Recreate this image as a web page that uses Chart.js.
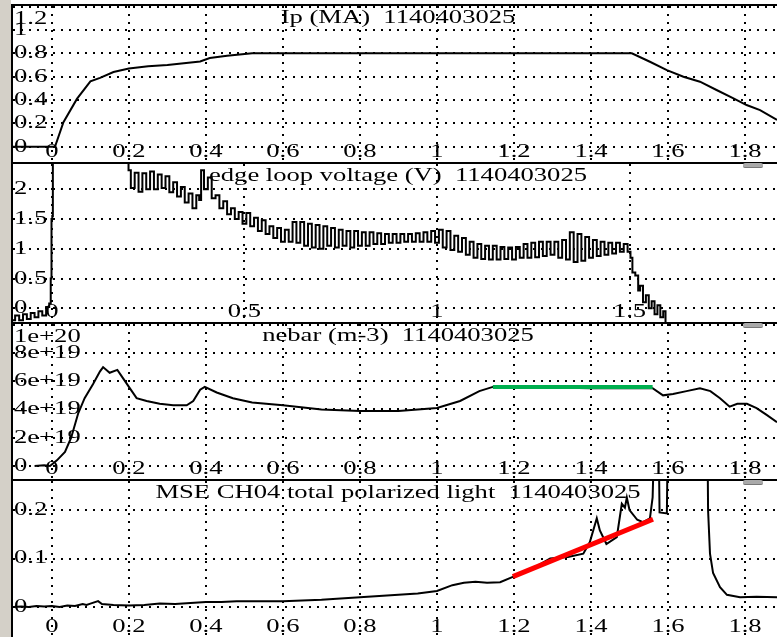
<!DOCTYPE html>
<html>
<head>
<meta charset="utf-8">
<script src="https://cdn.jsdelivr.net/npm/chart.js@4"></script>
<style>
  body { margin:0; width:777px; height:637px; background:#fff; position:relative; overflow:hidden; }
  .strip { position:absolute; left:0; top:0; width:11px; height:637px; background:#d4d0c8; }
  .vline { position:absolute; left:11px; top:4px; width:2px; height:633px; background:#000; }
  .hline { position:absolute; left:11px; width:766px; height:2px; background:#000; }
  .thumb { position:absolute; left:743px; width:20px; height:4px; background:#a9a9a9; border-radius:2px; border-bottom:1px solid #777; }
  .panel { position:absolute; left:13px; width:764px; }
</style>
</head>
<body>
<div class="strip"></div>
<div class="hline" style="top:4px"></div>
<div class="panel" style="top:6px;height:156px"><canvas id="p1"></canvas></div>
<div class="hline" style="top:162px"></div>
<div class="panel" style="top:164px;height:158px"><canvas id="p2"></canvas></div>
<div class="hline" style="top:322px"></div>
<div class="panel" style="top:324px;height:155px"><canvas id="p3"></canvas></div>
<div class="hline" style="top:479px"></div>
<div class="panel" style="top:481px;height:156px"><canvas id="p4"></canvas></div>
<div class="vline"></div>
<div class="thumb" style="top:163px"></div>
<div class="thumb" style="top:323px"></div>
<div class="thumb" style="top:480px"></div>
<script>
// ----- Configuration -----
const SHOT = '1140403025';
const X_MIN = -0.101, X_MAX = 1.883;
const X_TICKS = [0, 0.2, 0.4, 0.6, 0.8, 1, 1.2, 1.4, 1.6, 1.8];
const X_TICKS_LV = [0, 0.5, 1, 1.5];

// Ip (MA)
const IP_T = [-0.101, 0, 0.008, 0.03, 0.065, 0.10, 0.125, 0.16, 0.20, 0.25, 0.30, 0.385, 0.41, 0.455, 0.52, 0.6, 0.8, 1.0, 1.2, 1.4, 1.506, 1.553, 1.597, 1.64, 1.683, 1.726, 1.77, 1.804, 1.839, 1.883];
const IP_V = [0, 0, 0, 0.21, 0.41, 0.56, 0.59, 0.64, 0.67, 0.69, 0.70, 0.73, 0.76, 0.78, 0.80, 0.80, 0.80, 0.80, 0.80, 0.80, 0.80, 0.728, 0.657, 0.60, 0.557, 0.486, 0.415, 0.357, 0.314, 0.229];
const IP_YTICKS = [0, 0.2, 0.4, 0.6, 0.8, 1, 1.2];

// edge loop voltage (V)
const LV_T = [-0.101, -0.09, -0.08, -0.07, -0.06, -0.05, -0.04, -0.03, -0.02, -0.01, -0.004, -0.002, 0, 0.002, 0.003, 0.198,
  0.20, 0.21, 0.22, 0.23, 0.24, 0.25, 0.26, 0.27, 0.28, 0.29, 0.30, 0.31, 0.32, 0.33, 0.34, 0.35, 0.36, 0.37, 0.38, 0.385,
  0.39, 0.40, 0.41, 0.42, 0.43, 0.44, 0.45, 0.46, 0.47, 0.48, 0.49,
  0.50, 0.51, 0.52, 0.53, 0.54, 0.55, 0.56, 0.57, 0.58, 0.59,
  0.60, 0.61, 0.62, 0.63, 0.64, 0.65, 0.66, 0.67, 0.68, 0.69,
  0.70, 0.71, 0.72, 0.73, 0.74, 0.75, 0.76, 0.77, 0.78, 0.79,
  0.80, 0.81, 0.82, 0.83, 0.84, 0.85, 0.86, 0.87, 0.88, 0.89,
  0.90, 0.91, 0.92, 0.93, 0.94, 0.95, 0.96, 0.97, 0.98, 0.99,
  1.00, 1.01, 1.02, 1.03, 1.04, 1.05, 1.06, 1.07, 1.08, 1.09,
  1.10, 1.11, 1.12, 1.13, 1.14, 1.15, 1.16, 1.17, 1.18, 1.19,
  1.20, 1.21, 1.22, 1.23, 1.24, 1.25, 1.26, 1.27, 1.28, 1.29,
  1.30, 1.31, 1.32, 1.33, 1.34, 1.35, 1.36, 1.37, 1.38, 1.39,
  1.40, 1.41, 1.42, 1.43, 1.44, 1.45, 1.46, 1.47, 1.48, 1.49,
  1.50, 1.505, 1.51, 1.52, 1.525, 1.53, 1.54, 1.545, 1.555, 1.56, 1.57, 1.575, 1.585, 1.59, 1.597];
const LV_V = [-0.2, -0.12, -0.2, -0.1, -0.18, -0.08, -0.15, -0.05, -0.12, 0.02, 0.08, 0.5, 1.5, 1.55, 3.0, 3.0,
  2.32, 2.02, 2.28, 1.96, 2.27, 2.0, 2.3, 2.0, 2.25, 2.02, 2.22, 1.95, 2.12, 1.88, 2.04, 1.78, 1.93, 1.68, 1.9, 1.82,
  2.32, 2.0, 2.2, 1.85, 1.9, 1.68, 1.8, 1.58, 1.68, 1.5, 1.62,
  1.42, 1.6, 1.38, 1.52, 1.3, 1.48, 1.25, 1.38, 1.18, 1.35,
  1.12, 1.32, 1.12, 1.45, 1.1, 1.45, 1.05, 1.42, 1.02, 1.4,
  1.0, 1.38, 1.05, 1.35, 1.02, 1.32, 1.05, 1.3, 1.02, 1.3,
  1.05, 1.28, 1.05, 1.28, 1.08, 1.26, 1.08, 1.25, 1.1, 1.25,
  1.1, 1.25, 1.12, 1.25, 1.12, 1.26, 1.12, 1.28, 1.12, 1.3,
  1.1, 1.32, 1.02, 1.3, 0.98, 1.22, 0.95, 1.18, 0.9, 1.12,
  0.85, 1.08, 0.83, 1.05, 0.82, 1.05, 0.82, 1.03, 0.83, 1.02,
  0.82, 1.03, 0.85, 1.08, 0.85, 1.1, 0.86, 1.12, 0.88, 1.12,
  0.9, 1.12, 0.85, 1.15, 0.82, 1.28, 0.78, 1.25, 0.8, 1.2,
  0.85, 1.15, 0.88, 1.12, 0.9, 1.1, 0.92, 1.1, 0.95, 1.08,
  0.95, 0.85, 0.6, 0.55, 0.3, 0.38, 0.1, 0.22, 0.0, 0.12, -0.1, 0.05, -0.15, -0.05, -0.25];
const LV_YTICKS = [0, 0.5, 1, 1.5, 2];

// nebar (m-3)
const NE_T = [-0.045, -0.02, -0.005, 0.013, 0.034, 0.05, 0.068, 0.085, 0.107, 0.125, 0.133, 0.15, 0.17, 0.185, 0.2, 0.22, 0.246, 0.28, 0.315, 0.35, 0.367, 0.385, 0.397, 0.428, 0.47, 0.52, 0.6, 0.7, 0.8, 0.9, 1.0, 1.06, 1.11, 1.145, 1.2, 1.3, 1.4, 1.5, 1.56, 1.587, 1.613, 1.648, 1.683, 1.71, 1.735, 1.76, 1.78, 1.805, 1.83, 1.857, 1.883];
const NE_V = [0, 0.05e19, 0, 0.4e19, 1.0e19, 2.0e19, 3.7e19, 4.8e19, 5.8e19, 6.7e19, 7.0e19, 6.6e19, 6.8e19, 6.2e19, 5.6e19, 4.8e19, 4.6e19, 4.4e19, 4.3e19, 4.3e19, 4.6e19, 5.4e19, 5.6e19, 5.2e19, 4.8e19, 4.5e19, 4.3e19, 4.0e19, 3.9e19, 3.9e19, 4.1e19, 4.6e19, 5.3e19, 5.6e19, 5.6e19, 5.55e19, 5.5e19, 5.5e19, 5.5e19, 5.0e19, 5.1e19, 5.3e19, 5.5e19, 5.3e19, 4.8e19, 4.2e19, 4.4e19, 4.4e19, 4.1e19, 3.6e19, 3.1e19];
const NE_YTICKS = [0, 2e19, 4e19, 6e19, 8e19, 1e20];
const NE_FIT_T = [1.145, 1.560];
const NE_FIT_V = [5.6e19, 5.6e19];

// MSE CH04 total polarized light
const MSE_T = [-0.101, -0.08, -0.06, -0.04, -0.02, 0, 0.02, 0.04, 0.06, 0.08, 0.09, 0.1, 0.12, 0.13, 0.16, 0.2, 0.24, 0.28, 0.32, 0.36, 0.4, 0.44, 0.48, 0.52, 0.6, 0.7, 0.8, 0.9, 0.95, 1.0, 1.04, 1.07, 1.1, 1.13, 1.164, 1.197, 1.25, 1.294, 1.34, 1.38, 1.397, 1.415, 1.423, 1.44, 1.467, 1.48, 1.488, 1.493, 1.50, 1.52, 1.535, 1.553, 1.56, 1.566, 1.575, 1.578, 1.597, 1.600, 1.702, 1.704, 1.709, 1.717, 1.735, 1.753, 1.787, 1.83, 1.883];
const MSE_V = [0.0, 0.001, 0.0, 0.002, 0.001, 0.002, 0.0, 0.003, 0.002, 0.006, 0.004, 0.007, 0.012, 0.006, 0.004, 0.003, 0.004, 0.007, 0.006, 0.008, 0.01, 0.01, 0.012, 0.012, 0.012, 0.015, 0.02, 0.025, 0.028, 0.033, 0.045, 0.05, 0.052, 0.05, 0.051, 0.062, 0.08, 0.10, 0.103, 0.11, 0.134, 0.183, 0.158, 0.13, 0.144, 0.213, 0.205, 0.226, 0.2, 0.18, 0.175, 0.183, 0.226, 0.4, 0.4, 0.195, 0.193, 0.4, 0.4, 0.2, 0.11, 0.07, 0.041, 0.025, 0.02, 0.021, 0.02];
const MSE_YTICKS = [0, 0.1, 0.2];
const MSE_FIT_T = [1.197, 1.561];
const MSE_FIT_V = [0.0625, 0.181];

// ----- Helpers -----
const STRETCH = 1.4;
const FONT = '19px "Liberation Serif"';

function pts(ts, vs){ return ts.map((t,i)=>({x:t, y:vs[i]})); }

function drawText(ctx, txt, x, y, align){
  ctx.save();
  ctx.font = FONT;
  ctx.textBaseline = 'middle';
  ctx.textAlign = 'left';
  const w = ctx.measureText(txt).width * STRETCH;
  ctx.translate(align==='center' ? x - w/2 : x, y);
  ctx.scale(STRETCH, 1);
  ctx.fillStyle = '#000';
  ctx.fillText(txt, 0, 0);
  ctx.restore();
}

function fmt(v, exp){
  if(v===0) return '0';
  return exp ? v.toExponential() : String(v);
}

// tick labels + title drawn inside the plot, like the scope display
const panelText = {
  id:'panelText',
  beforeDatasetsDraw(chart, args, opts){
    const {ctx, chartArea:a, scales:{x, y}} = chart;
    for(const t of x.ticks) drawText(ctx, fmt(t.value,false), x.getPixelForValue(t.value), a.bottom - 10, 'center');
    for(const t of y.ticks){
      const py = Math.max(y.getPixelForValue(t.value), a.top + 13);
      drawText(ctx, fmt(t.value, opts.exp), a.left + 1, py, 'left');
    }
    drawText(ctx, opts.title, 385, a.top + 12, 'center');
  }
};

function makePanel(id, title, xTicks, yTicks, yMin, yMax, datasets, exp){
  return new Chart(document.getElementById(id), {
    type:'line',
    data:{ datasets },
    options:{
      responsive:true, maintainAspectRatio:false, animation:false, devicePixelRatio:1,
      layout:{ padding:0 },
      elements:{ point:{ radius:0 }, line:{ tension:0 } },
      plugins:{ legend:{display:false}, tooltip:{enabled:false}, panelText:{ title, exp } },
      scales:{
        x:{ type:'linear', min:X_MIN, max:X_MAX,
            afterBuildTicks:s=>{ s.ticks = xTicks.map(v=>({value:v})); },
            afterFit:s=>{ s.height = 0; },
            ticks:{ display:false },
            grid:{ color:'#000', lineWidth:2, drawTicks:false },
            border:{ display:false, dash:[2,6] } },
        y:{ type:'linear', min:yMin, max:yMax,
            afterBuildTicks:s=>{ s.ticks = yTicks.map(v=>({value:v})); },
            afterFit:s=>{ s.width = 0; },
            ticks:{ display:false },
            grid:{ color:'#000', lineWidth:2, drawTicks:false },
            border:{ display:false, dash:[2,6] } }
      }
    },
    plugins:[panelText]
  });
}

// order: fit lines (order 0) are drawn on top of the black traces (order 1)
function trace(ts, vs, stepped){ return { data:pts(ts,vs), borderColor:'#000', borderWidth:2, fill:false, stepped:stepped||false, order:1 }; }
function fitLine(ts, vs, color, w){ return { data:pts(ts,vs), borderColor:color, borderWidth:w, fill:false, order:0 }; }

makePanel('p1', 'Ip (MA)  ' + SHOT, X_TICKS, IP_YTICKS, -0.131, 1.206, [trace(IP_T, IP_V)], false);
makePanel('p2', 'edge loop voltage (V)  ' + SHOT, X_TICKS_LV, LV_YTICKS, -0.23, 2.425, [trace(LV_T, LV_V, 'middle')], false);
makePanel('p3', 'nebar (m-3)  ' + SHOT, X_TICKS, NE_YTICKS, -0.92e19, 10.05e19,
  [trace(NE_T, NE_V), fitLine(NE_FIT_T, NE_FIT_V, '#00b050', 4)], true);
makePanel('p4', 'MSE CH04 total polarized light  ' + SHOT, X_TICKS, MSE_YTICKS, -0.062, 0.26,
  [trace(MSE_T, MSE_V), fitLine(MSE_FIT_T, MSE_FIT_V, '#ff0000', 5)], false);
</script>
</body>
</html>
